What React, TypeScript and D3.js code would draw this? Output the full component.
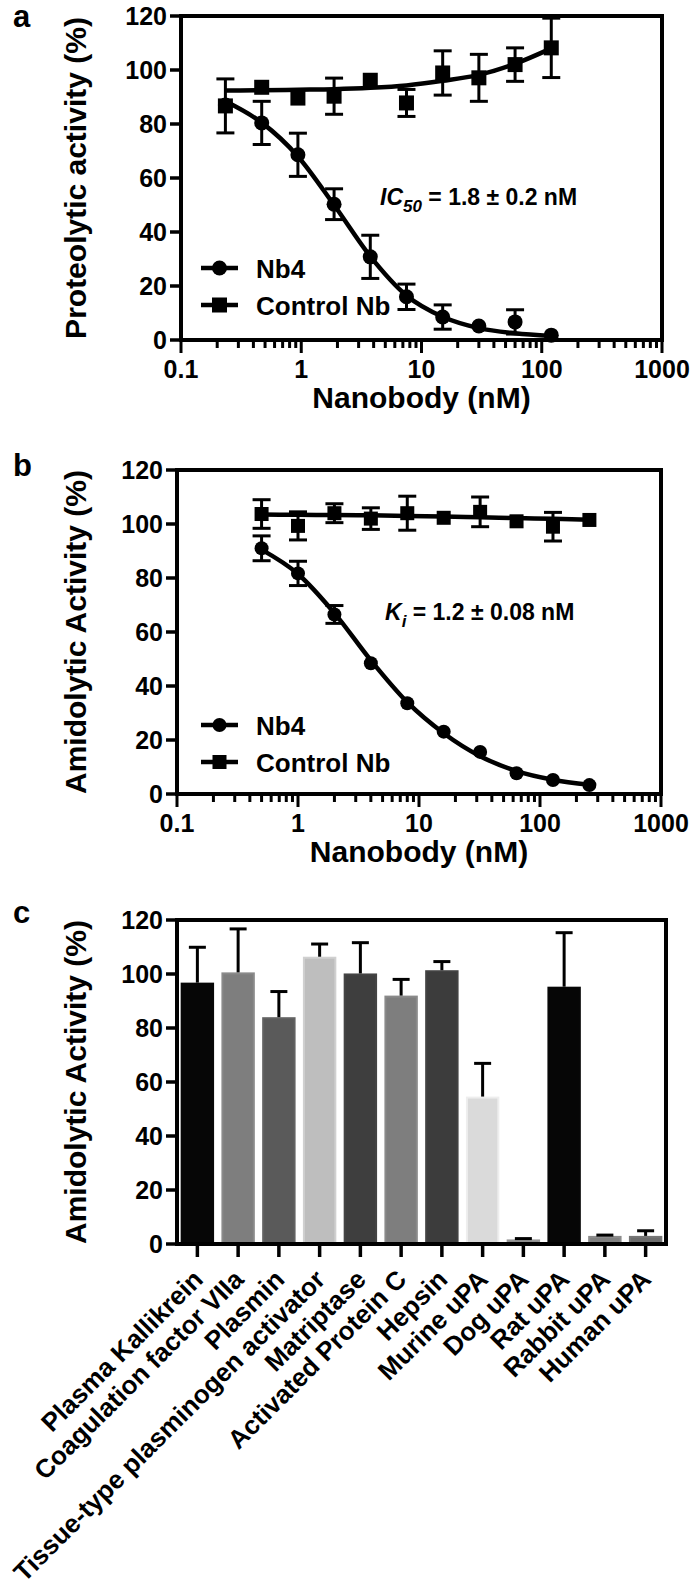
import React from 'react';
import * as d3 from 'd3';

// panel a: proteolytic activity (%) vs nanobody (nM)
const concA = [0.234, 0.469, 0.938, 1.875, 3.75, 7.5, 15, 30, 60, 120];
const nb4A = [87, 80.4, 68.6, 50.3, 30.8, 16, 8.5, 5.2, 6.7, 1.8];
const nb4ErrA = [0, 8, 8, 5.7, 8, 4.7, 4.5, 0, 4.5, 0];
const nb4FitA = [88.4, 80.5, 68, 50, 31, 16.5, 8.6, 4.4, 2.5, 1.5];
const ctrlA = [86.7, 93.6, 89.6, 90.3, 96.2, 87.8, 98.9, 97.1, 102, 108.2];
const ctrlErrA = [10, 0, 0, 6.7, 0, 5, 8.2, 8.7, 6.2, 11];
const ctrlFitA = [92.4, 92.5, 92.7, 92.9, 93.4, 94.3, 96, 98.2, 102.3, 108];

// panel b: amidolytic activity (%) vs nanobody (nM)
const concB = [0.5, 1, 2, 4, 8, 16, 32, 64, 128, 256];
const nb4B = [91, 81.7, 66.5, 48.4, 33.6, 23.1, 15.6, 7.7, 5.2, 3.3];
const nb4ErrB = [4.6, 4.5, 3.3, 0, 0, 0, 0, 0, 0, 0];
const nb4FitB = [90.5, 81.5, 67, 49.5, 34, 22.5, 14, 8.5, 5.3, 3.4];
const ctrlB = [103.7, 99.3, 104, 102, 104, 102.3, 104.5, 101, 99, 101.5];
const ctrlErrB = [5.3, 5.2, 3.5, 4, 6.3, 0, 5.5, 0, 5.3, 0];
const ctrlFitB = [103.5, 103.4, 103.3, 103.2, 103, 102.8, 102.5, 102.2, 101.9, 101.6];

// panel c: amidolytic activity of Nb4 on various proteases
const categories = [
  'Plasma Kallikrein',
  'Coagulation factor VIIa',
  'Plasmin',
  'Tissue-type plasminogen activator',
  'Matriptase',
  'Activated Protein C',
  'Hepsin',
  'Murine uPA',
  'Dog uPA',
  'Rat uPA',
  'Rabbit uPA',
  'Human uPA',
];
const activity = [96.8, 100.6, 84, 106.4, 100.2, 92, 101.4, 54.6, 1.7, 95.3, 3, 3];
const activityErr = [13.1, 16.1, 9.5, 4.7, 11.4, 6, 3.2, 12.3, 0.3, 20, 0.3, 1.9];

const yTicks = [0, 20, 40, 60, 80, 100, 120];
const decadeLabels = ['0.1', '1', '10', '100', '1000'];

const barColors = [
  '#060606', '#7e7e7e', '#5a5a5a', '#bebebe', '#3e3e3e', '#7e7e7e',
  '#3c3c3c', '#dadada', '#8a8a8a', '#060606', '#808080', '#6c6c6c',
];

const FONT = '"Liberation Sans", Arial, Helvetica, sans-serif';
const AXIS_W = 4;

type Box = { left: number; right: number; top: number; bottom: number };

type DoseProps = {
  box: Box;
  letter: string;
  letterY: number;
  yTitle: string;
  conc: number[];
  nb4: number[];
  nb4Err: number[];
  nb4Fit: number[];
  ctrl: number[];
  ctrlErr: number[];
  ctrlFit: number[];
  legendY: number;
  note: { x: number; y: number; main: string; sub: string; rest: string };
  markerR: number;
};

const Square = ({ cx, cy, s }: { cx: number; cy: number; s: number }) => (
  <rect x={cx - s / 2} y={cy - s / 2} width={s} height={s} fill="#000" />
);

const YAxis = ({ box, y, title }: { box: Box; y: d3.ScaleLinear<number, number>; title: string }) => (
  <g>
    {yTicks.map((t) => (
      <g key={t}>
        <line x1={box.left - 11} x2={box.left} y1={y(t)} y2={y(t)} stroke="#000" strokeWidth={3.5} />
        <text x={box.left - 14} y={y(t)} dy="0.36em" textAnchor="end" fontSize={25} fontWeight="bold">
          {t}
        </text>
      </g>
    ))}
    <text
      transform={`translate(86,${(box.top + box.bottom) / 2}) rotate(-90)`}
      textAnchor="middle"
      fontSize={30}
      fontWeight="bold"
    >
      {title}
    </text>
  </g>
);

const Frame = ({ box }: { box: Box }) => (
  <g stroke="#000" strokeWidth={AXIS_W} fill="none">
    <line x1={box.left} x2={box.right + 2} y1={box.top} y2={box.top} />
    <line x1={box.right} x2={box.right} y1={box.top} y2={box.bottom} />
    <line x1={box.left} x2={box.left} y1={box.top - 2} y2={box.bottom + 2} />
    <line x1={box.left - 2} x2={box.right + 2} y1={box.bottom} y2={box.bottom} />
  </g>
);

const DosePanel = (p: DoseProps) => {
  const { box } = p;
  const x = d3.scaleLog().domain([0.1, 1000]).range([box.left, box.right]);
  const y = d3.scaleLinear().domain([0, 120]).range([box.bottom, box.top]);
  const line = d3
    .line<number>()
    .x((_, i) => x(p.conc[i]))
    .y((d) => y(d))
    .curve(d3.curveMonotoneX);
  const ticks = x.ticks();
  const isMajor = (t: number) => Math.abs(Math.log10(t) - Math.round(Math.log10(t))) < 1e-6;
  const cap = 9;

  const errBars = (vals: number[], errs: number[]) =>
    vals.map((v, i) =>
      errs[i] > 0 ? (
        <g key={i} stroke="#000" strokeWidth={3}>
          <line x1={x(p.conc[i])} x2={x(p.conc[i])} y1={y(v + errs[i])} y2={y(v - errs[i])} />
          <line x1={x(p.conc[i]) - cap} x2={x(p.conc[i]) + cap} y1={y(v + errs[i])} y2={y(v + errs[i])} />
          <line x1={x(p.conc[i]) - cap} x2={x(p.conc[i]) + cap} y1={y(v - errs[i])} y2={y(v - errs[i])} />
        </g>
      ) : null
    );

  return (
    <g>
      <text x={13} y={p.letterY} fontSize={31} fontWeight="bold">
        {p.letter}
      </text>
      <Frame box={box} />
      {ticks.map((t, i) => (
        <line
          key={i}
          x1={x(t)}
          x2={x(t)}
          y1={box.bottom}
          y2={box.bottom + (isMajor(t) ? 13 : 8)}
          stroke="#000"
          strokeWidth={3}
        />
      ))}
      {decadeLabels.map((l) => (
        <text key={l} x={x(+l)} y={box.bottom + 38} textAnchor="middle" fontSize={25} fontWeight="bold">
          {l}
        </text>
      ))}
      <text x={(box.left + box.right) / 2} y={box.bottom + 68} textAnchor="middle" fontSize={30} fontWeight="bold">
        Nanobody (nM)
      </text>
      <YAxis box={box} y={y} title={p.yTitle} />

      <path d={line(p.ctrlFit) || ''} fill="none" stroke="#000" strokeWidth={4.5} />
      <path d={line(p.nb4Fit) || ''} fill="none" stroke="#000" strokeWidth={4.5} />
      {errBars(p.nb4, p.nb4Err)}
      {errBars(p.ctrl, p.ctrlErr)}
      {p.nb4.map((v, i) => (
        <circle key={i} cx={x(p.conc[i])} cy={y(v)} r={p.markerR} fill="#000" />
      ))}
      {p.ctrl.map((v, i) => (
        <Square key={i} cx={x(p.conc[i])} cy={y(v)} s={p.markerR * 2} />
      ))}

      {/* legend */}
      <g>
        <line x1={201} x2={238} y1={p.legendY} y2={p.legendY} stroke="#000" strokeWidth={4.5} />
        <circle cx={219.5} cy={p.legendY} r={p.markerR} fill="#000" />
        <text x={256} y={p.legendY + 10} fontSize={26} fontWeight="bold">
          Nb4
        </text>
        <line x1={201} x2={238} y1={p.legendY + 37} y2={p.legendY + 37} stroke="#000" strokeWidth={4.5} />
        <Square cx={219.5} cy={p.legendY + 37} s={p.markerR * 2} />
        <text x={256} y={p.legendY + 47} fontSize={26} fontWeight="bold">
          Control Nb
        </text>
      </g>

      <text x={p.note.x} y={p.note.y} fontSize={23} fontWeight="bold">
        <tspan fontStyle="italic">{p.note.main}</tspan>
        <tspan fontStyle="italic" fontSize={17} dy={7}>
          {p.note.sub}
        </tspan>
        <tspan dy={-7}>{p.note.rest}</tspan>
      </text>
    </g>
  );
};

const BarPanel = ({ box }: { box: Box }) => {
  const x = d3.scaleBand<string>().domain(categories).range([box.left, box.right]).paddingInner(0.18).paddingOuter(0.09);
  const y = d3.scaleLinear().domain([0, 120]).range([box.bottom, box.top]);
  const bw = x.bandwidth();
  const cap = 8.5;
  return (
    <g>
      <text x={13} y={box.top + 3} fontSize={31} fontWeight="bold">
        c
      </text>
      {categories.map((c, i) => {
        const v = activity[i];
        const fill = barColors[i];
        const edge = d3.color(fill)!.brighter(0.25).formatHex();
        const cx = x(c)! + bw / 2;
        return (
          <g key={c}>
            <rect x={x(c)! + 1} y={y(v) + 1} width={bw - 2} height={y(0) - y(v) - 1} fill={fill} stroke={edge} strokeWidth={2} />
            <g stroke="#000" strokeWidth={3}>
              <line x1={cx} x2={cx} y1={y(v)} y2={y(v + activityErr[i])} />
              <line x1={cx - cap} x2={cx + cap} y1={y(v + activityErr[i])} y2={y(v + activityErr[i])} />
            </g>
          </g>
        );
      })}
      <Frame box={box} />
      {categories.map((c) => {
        const cx = x(c)! + bw / 2;
        return (
          <g key={c}>
            <line x1={cx} x2={cx} y1={box.bottom} y2={box.bottom + 13} stroke="#000" strokeWidth={3.5} />
            <text
              transform={`translate(${cx + 7},${box.bottom + 37}) rotate(-45)`}
              textAnchor="end"
              fontSize={26}
              fontWeight="bold"
            >
              {c}
            </text>
          </g>
        );
      })}
      <YAxis box={box} y={y} title="Amidolytic Activity (%)" />
    </g>
  );
};

const App: React.FC = () => {
  return (
    <svg
      width={693}
      height={1586}
      style={{ position: 'absolute', left: 0, top: 0, background: '#fff' }}
      fontFamily={FONT}
    >
      <DosePanel
        box={{ left: 181, right: 662, top: 16, bottom: 340 }}
        letter="a"
        letterY={27}
        yTitle="Proteolytic activity (%)"
        conc={concA}
        nb4={nb4A}
        nb4Err={nb4ErrA}
        nb4Fit={nb4FitA}
        ctrl={ctrlA}
        ctrlErr={ctrlErrA}
        ctrlFit={ctrlFitA}
        legendY={268}
        note={{ x: 380, y: 205, main: 'IC', sub: '50', rest: ' = 1.8 ± 0.2 nM' }}
        markerR={7.5}
      />
      <DosePanel
        box={{ left: 177, right: 661, top: 470, bottom: 794 }}
        letter="b"
        letterY={476}
        yTitle="Amidolytic Activity (%)"
        conc={concB}
        nb4={nb4B}
        nb4Err={nb4ErrB}
        nb4Fit={nb4FitB}
        ctrl={ctrlB}
        ctrlErr={ctrlErrB}
        ctrlFit={ctrlFitB}
        legendY={725}
        note={{ x: 385, y: 620, main: 'K', sub: 'i', rest: ' = 1.2 ± 0.08 nM' }}
        markerR={7}
      />
      <BarPanel box={{ left: 177, right: 666, top: 920, bottom: 1244 }} />
    </svg>
  );
};

export default App;
